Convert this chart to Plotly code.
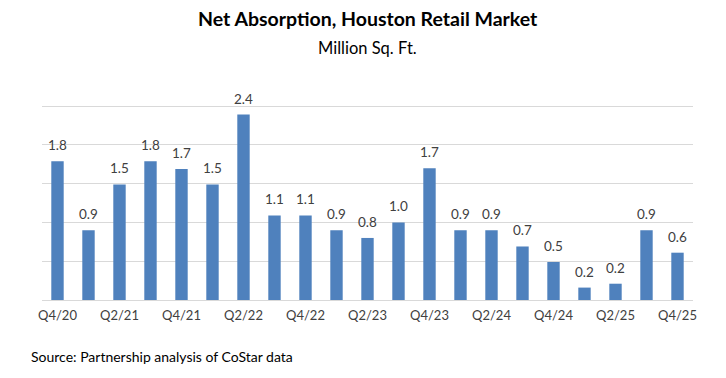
import plotly.graph_objects as go

quarters = ["Q4/20", "Q1/21", "Q2/21", "Q3/21", "Q4/21", "Q1/22", "Q2/22", "Q3/22",
            "Q4/22", "Q1/23", "Q2/23", "Q3/23", "Q4/23", "Q1/24", "Q2/24", "Q3/24",
            "Q4/24", "Q1/25", "Q2/25", "Q3/25", "Q4/25"]
absorption = [1.79, 0.90, 1.49, 1.79, 1.69, 1.49, 2.39, 1.09, 1.09, 0.90, 0.80,
              1.00, 1.70, 0.90, 0.90, 0.69, 0.49, 0.16, 0.21, 0.90, 0.61]
tick_labels = quarters[::2]

title_text = "Net Absorption, Houston Retail Market"
subtitle_text = "Million Sq. Ft."
source_text = "Source: Partnership analysis of CoStar data"

FONT = "Lato, Open Sans, sans-serif"

fig = go.Figure()
fig.add_trace(go.Bar(
    x=quarters, y=absorption,
    marker=dict(color="#4F81BD", line=dict(width=0)),
    hoverinfo="x+y",
))

annotations = []
for q, v in zip(quarters, absorption):
    annotations.append(dict(
        x=q, y=v, xref="x", yref="y", text=f"{v:.1f}", showarrow=False,
        yanchor="bottom", yshift=6, font=dict(family=FONT, size=13.5, color="#404040"),
    ))

annotations += [
    dict(text=f"<b>{title_text}</b>", xref="paper", yref="paper", x=0.5, y=1.0,
         xanchor="center", yanchor="middle", yshift=49, showarrow=False,
         font=dict(family=FONT, size=19.5, color="#000000")),
    dict(text=subtitle_text, xref="paper", yref="paper", x=0.5, y=1.0,
         xanchor="center", yanchor="middle", yshift=19, showarrow=False,
         font=dict(family=FONT, size=16.5, color="#000000")),
    dict(text=source_text, xref="paper", yref="paper", x=0, y=0,
         xanchor="left", yanchor="middle", xshift=-13, yshift=-56, showarrow=False,
         font=dict(family=FONT, size=14, color="#000000")),
]

fig.update_layout(
    width=726, height=378,
    margin=dict(l=42, r=33, t=67, b=78, pad=0),
    paper_bgcolor="white", plot_bgcolor="white",
    showlegend=False,
    bargap=0.6,
    annotations=annotations,
    xaxis=dict(
        type="category", categoryorder="array", categoryarray=quarters,
        range=[-0.5, len(quarters) - 0.5],
        tickmode="array", tickvals=tick_labels, ticktext=tick_labels,
        tickfont=dict(family=FONT, size=13, color="#404040"),
        ticklabelstandoff=6,
        showgrid=False, showline=False, ticks="", ticklen=0,
    ),
    yaxis=dict(
        range=[0, 3.004], tickvals=[0.5, 1.0, 1.5, 2.0, 2.5, 3.0], showticklabels=False,
        showgrid=True, gridcolor="#D9D9D9", gridwidth=1,
        zeroline=True, zerolinecolor="#D9D9D9", zerolinewidth=1,
        showline=False, ticks="",
    ),
)

fig.write_html("out.html", config={"displayModeBar": False},
               post_script="document.body.style.margin='0';")
